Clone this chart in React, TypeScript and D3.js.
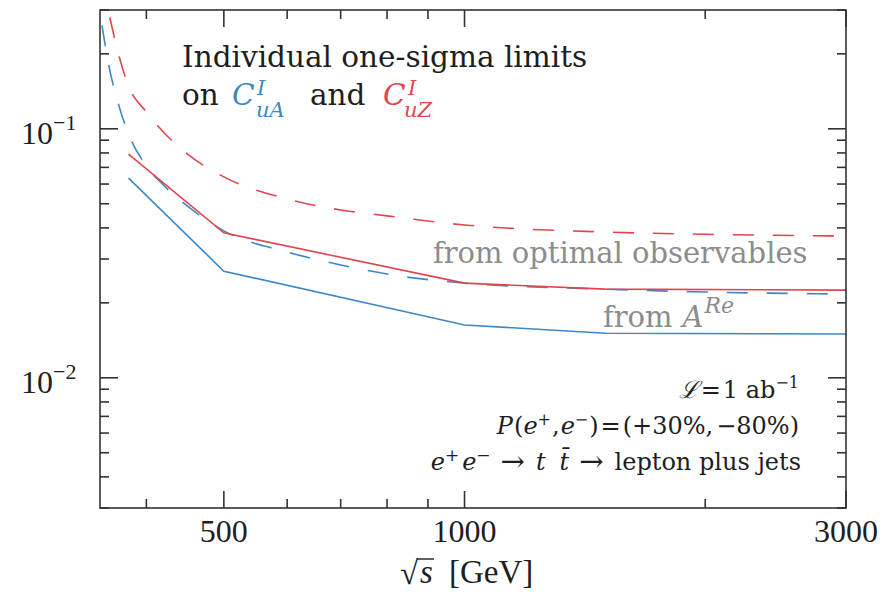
import React from "react";
import * as d3 from "d3";

// Centre-of-mass energies (GeV) at which the solid limits were evaluated
const energies = [380, 500, 1000, 1500, 3000];
// Solid lines: one-sigma limits from optimal observables
const limitUASolid = [0.0634, 0.0268, 0.0163, 0.0151, 0.015];
const limitUZSolid = [0.0792, 0.0382, 0.024, 0.0227, 0.0225];

// Dashed lines: limits from the asymmetry A^Re, evaluated on a finer energy grid
const energiesUADashed = [352, 360, 370, 380, 400, 420, 450, 500, 600, 700, 800, 1000, 1500, 2000, 3000];
const limitUADashed = [0.26, 0.172, 0.1224, 0.0953, 0.0709, 0.0595, 0.049, 0.0389, 0.032, 0.0284, 0.0261, 0.024, 0.0227, 0.0221, 0.0217];
const energiesUZDashed = [360, 370, 380, 400, 420, 450, 500, 600, 700, 800, 1000, 1500, 2000, 3000];
const limitUZDashed = [0.28, 0.194, 0.1486, 0.1168, 0.0971, 0.0793, 0.0641, 0.0523, 0.0472, 0.0447, 0.0411, 0.0385, 0.0377, 0.0371];

// Axis ticks
const xTicks = [400, 500, 600, 700, 800, 900, 1000, 2000, 3000];
const xLabelled = [500, 1000, 3000];
const yMajor = [0.01, 0.1];
const yMinor = [0.003, 0.004, 0.005, 0.006, 0.007, 0.008, 0.009, 0.02, 0.03, 0.04, 0.05, 0.06, 0.07, 0.08, 0.09, 0.2, 0.3];
const yLabels = [
  { v: 0.1, exp: "−1" },
  { v: 0.01, exp: "−2" },
];

const W = 894;
const H = 592;
const margin = { left: 100, right: 48, top: 10, bottom: 84 };

const BLUE = "#3d88c8";
const RED = "#e2444e";
const GRAY = "#8c8c8c";
const INK = "#1e1e1e";
const FRAME = "#333";

const TEXT_FONT = "'DejaVu Serif', serif";
const NUM_FONT = "'Liberation Serif', 'DejaVu Serif', serif";

export default function App() {
  const x = d3.scaleLog().domain([350, 3000]).range([margin.left, W - margin.right]);
  const y = d3.scaleLog().domain([0.003, 0.3]).range([H - margin.bottom, margin.top]);

  const x0 = margin.left;
  const x1 = W - margin.right;
  const y0 = H - margin.bottom;
  const y1 = margin.top;

  const straight = d3
    .line<[number, number]>()
    .x((d) => x(d[0]))
    .y((d) => y(d[1]));
  const smooth = d3
    .line<[number, number]>()
    .x((d) => x(d[0]))
    .y((d) => y(d[1]))
    .curve(d3.curveMonotoneX);

  const zip = (xs: number[], ys: number[]) => xs.map((v, i) => [v, ys[i]] as [number, number]);

  const majorLen = 17;
  const minorLen = 9;
  const supDy = 9;

  return (
    <svg
      width={W}
      height={H}
      style={{ position: "absolute", left: 0, top: 0, display: "block", background: "#fff" }}
    >
      <defs>
        <clipPath id="plot-area">
          <rect x={x0} y={y1} width={x1 - x0} height={y0 - y1} />
        </clipPath>
      </defs>
      <rect width={W} height={H} fill="#fff" />

      {/* series */}
      <g clipPath="url(#plot-area)" fill="none" strokeWidth={1.6}>
        <path d={smooth(zip(energiesUZDashed, limitUZDashed)) || ""} stroke={RED} strokeDasharray="21,19" />
        <path d={smooth(zip(energiesUADashed, limitUADashed)) || ""} stroke={BLUE} strokeDasharray="21,19" />
        <path d={straight(zip(energies, limitUZSolid)) || ""} stroke={RED} />
        <path d={straight(zip(energies, limitUASolid)) || ""} stroke={BLUE} />
      </g>

      {/* frame */}
      <rect x={x0} y={y1} width={x1 - x0} height={y0 - y1} fill="none" stroke={FRAME} strokeWidth={1.6} />

      {/* ticks on all four sides, pointing inward */}
      <g stroke={FRAME} strokeWidth={1.6}>
        {xTicks.map((t) => {
          const len = xLabelled.includes(t) ? majorLen : minorLen;
          return (
            <g key={"xt" + t}>
              <line x1={x(t)} x2={x(t)} y1={y0} y2={y0 - len} />
              <line x1={x(t)} x2={x(t)} y1={y1} y2={y1 + len} />
            </g>
          );
        })}
        {yMajor.map((t) => (
          <g key={"yM" + t}>
            <line x1={x0} x2={x0 + majorLen + 1} y1={y(t)} y2={y(t)} />
            <line x1={x1} x2={x1 - majorLen - 1} y1={y(t)} y2={y(t)} />
          </g>
        ))}
        {yMinor.map((t) => (
          <g key={"ym" + t}>
            <line x1={x0} x2={x0 + minorLen} y1={y(t)} y2={y(t)} />
            <line x1={x1} x2={x1 - minorLen} y1={y(t)} y2={y(t)} />
          </g>
        ))}
      </g>

      {/* x tick labels */}
      <g fontFamily={NUM_FONT} fontSize={32} fill={INK} textAnchor="middle">
        {xLabelled.map((t) => (
          <text key={"xl" + t} x={x(t)} y={542}>
            {t}
          </text>
        ))}
      </g>

      {/* y tick labels */}
      <g fontFamily={NUM_FONT} fill={INK}>
        {yLabels.map((d) => (
          <text key={"yl" + d.v} x={21} y={y(d.v) + 15.5} fontSize={32}>
            10
            <tspan fontSize={22} dy={-14}>
              {d.exp}
            </tspan>
          </text>
        ))}
      </g>

      {/* x axis title */}
      <g fill={INK}>
        <text x={400} y={584} fontFamily={NUM_FONT} fontSize={33}>
          √
        </text>
        <line x1={417} x2={434} y1={559} y2={559} stroke={INK} strokeWidth={1.4} />
        <text x={420} y={583} fontFamily={NUM_FONT} fontSize={33} fontStyle="italic">
          s
        </text>
        <text x={449} y={583} fontFamily={NUM_FONT} fontSize={33}>
          [GeV]
        </text>
      </g>

      {/* title */}
      <g fontFamily={TEXT_FONT} fill={INK}>
        <text x={182} y={66.5} fontSize={29.5}>
          Individual one-sigma limits
        </text>
        <text x={182} y={105} fontSize={29.5}>
          on
        </text>
        <text x={310} y={105} fontSize={29.5}>
          and
        </text>
      </g>
      <g fontFamily={TEXT_FONT} fontStyle="italic">
        <text x={232} y={105} fontSize={29.5} fill={BLUE}>
          C
        </text>
        <text x={257} y={95} fontSize={21} fill={BLUE}>
          I
        </text>
        <text x={256} y={117} fontSize={21} fill={BLUE}>
          uA
        </text>
        <text x={383} y={105} fontSize={29.5} fill={RED}>
          C
        </text>
        <text x={408} y={95} fontSize={21} fill={RED}>
          I
        </text>
        <text x={404} y={117} fontSize={21} fill={RED}>
          uZ
        </text>
      </g>

      {/* curve labels */}
      <g fontFamily={TEXT_FONT} fill={GRAY} fontSize={29}>
        <text x={433} y={263}>from optimal observables</text>
        <text x={603} y={327}>
          from
          <tspan fontStyle="italic" dx={10}>
            A
          </tspan>
          <tspan fontStyle="italic" fontSize={22} dy={-14} dx={1}>
            Re
          </tspan>
        </text>
      </g>

      {/* run conditions */}
      <g fontFamily={TEXT_FONT} fill={INK} fontSize={24} textAnchor="end">
        <text x={799} y={398}>
          <tspan fontStyle="italic">ℒ</tspan>
          <tspan dx={2}>=</tspan>
          <tspan dx={2}>1 ab</tspan>
          <tspan fontSize={16} dy={-10}>
            −1
          </tspan>
        </text>
        <text x={799} y={434}>
          <tspan fontStyle="italic">P</tspan>
          <tspan dx={1}>(</tspan>
          <tspan fontStyle="italic">e</tspan>
          <tspan fontSize={16} dy={-supDy}>
            +
          </tspan>
          <tspan dy={supDy} dx={1}>
            ,
          </tspan>
          <tspan fontStyle="italic" dx={1}>
            e
          </tspan>
          <tspan fontSize={16} dy={-supDy}>
            −
          </tspan>
          <tspan dy={supDy} dx={1}>
            )
          </tspan>
          <tspan dx={2}>=</tspan>
          <tspan dx={2}>(+30%,</tspan>
          <tspan dx={3}>−80%)</tspan>
        </text>
        <text x={801} y={470}>
          <tspan fontStyle="italic">e</tspan>
          <tspan fontSize={17} dy={-supDy}>
            +
          </tspan>
          <tspan fontStyle="italic" dy={supDy} dx={3}>
            e
          </tspan>
          <tspan fontSize={17} dy={-supDy}>
            −
          </tspan>
          <tspan dy={supDy + 1} dx={10} fontSize={29}>
            →
          </tspan>
          <tspan fontStyle="italic" dy={-1} dx={11}>
            t
          </tspan>
          <tspan fontStyle="italic" dx={14}>
            t̄
          </tspan>
          <tspan dx={10} dy={1} fontSize={29}>
            →
          </tspan>
          <tspan dx={11} dy={-1}>
            lepton plus jets
          </tspan>
        </text>
      </g>
    </svg>
  );
}
